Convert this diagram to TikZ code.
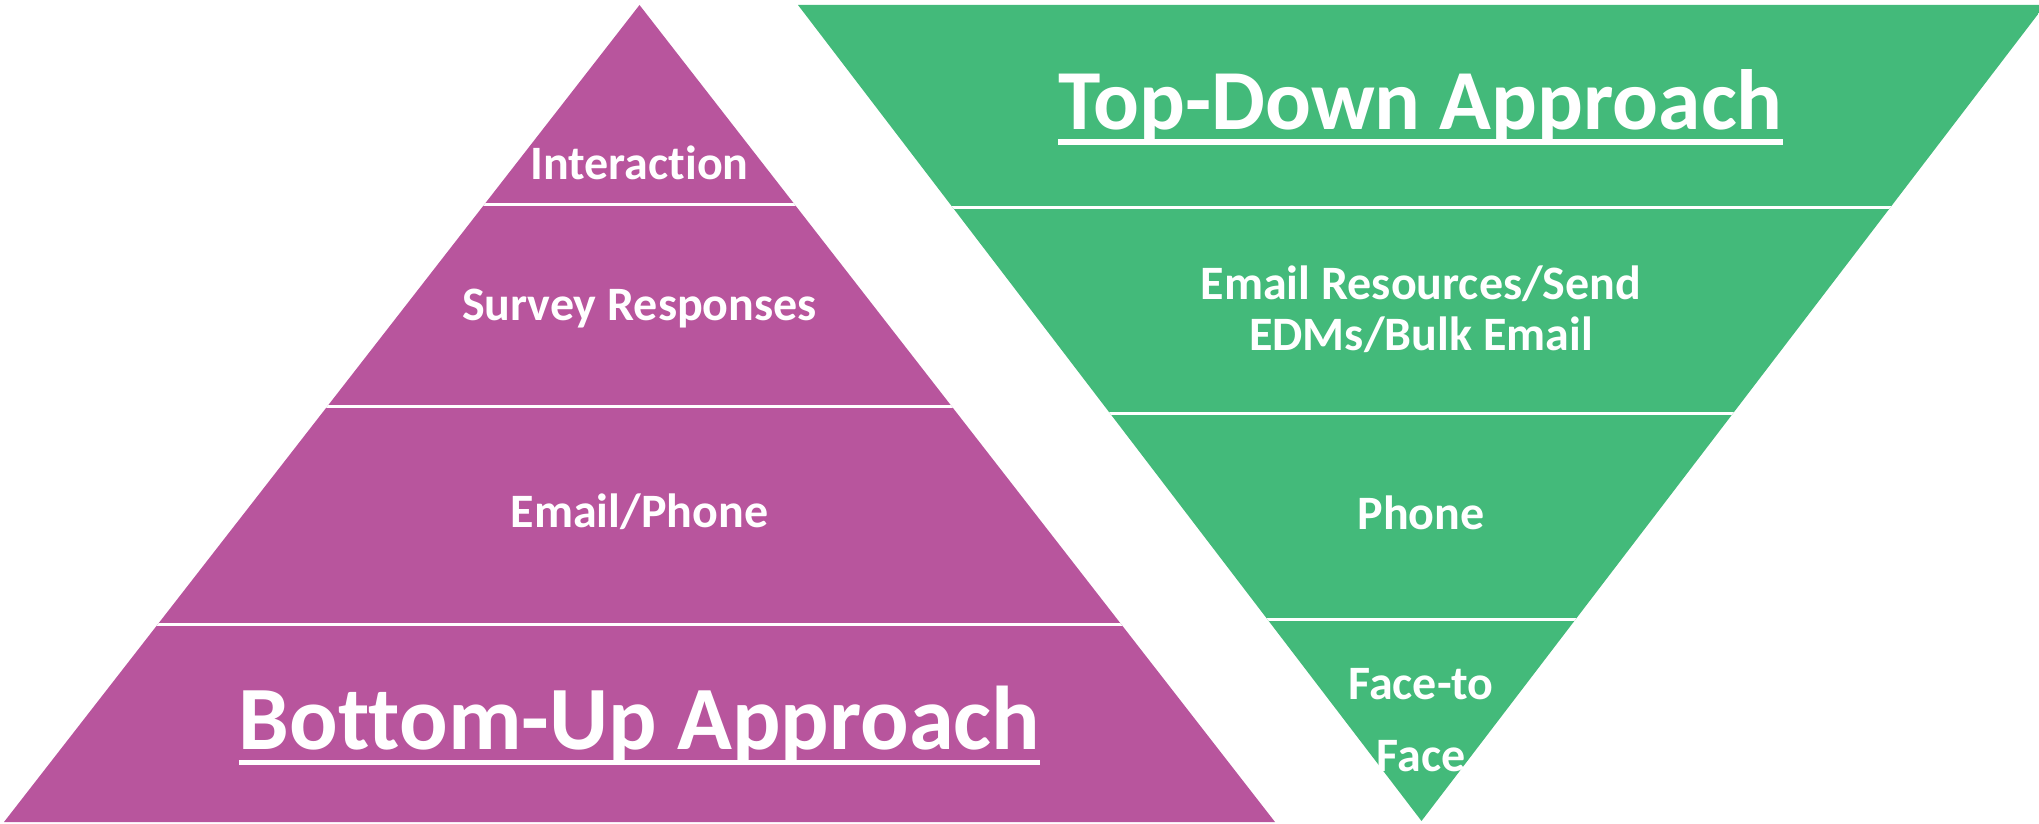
\documentclass[tikz,border=0pt]{standalone}
\usepackage{fontspec}
\setmainfont{Carlito}[Ligatures=NoCommon]
\definecolor{bottomupback}{RGB}{184,85,157}
\definecolor{topdownback}{RGB}{67,186,122}

\begin{document}
\begin{tikzpicture}[x=1pt,y=-1pt,
  layertext/.style={text=white,font=\fontsize{48}{51}\selectfont\bfseries,inner sep=0pt,anchor=base,align=center},
  headtext/.style={text=white,font=\fontsize{88}{96}\selectfont\bfseries,inner sep=0pt,anchor=base},
  divider/.style={white,line width=3pt}]
\useasboundingbox (0,0) rectangle (2039,824);
\begin{scope}
\clip (639.5,5) -- (1275,822) -- (4,822) -- cycle;
\fill[bottomupback] (0,0) rectangle (2039,824);
\foreach \y in {204,406,624} \draw[divider] (0,\y) -- (2039,\y);
\end{scope}
\begin{scope}
\clip (798,5) -- (2045,5) -- (1421.5,821) -- cycle;
\fill[topdownback] (0,0) rectangle (2039,824);
\foreach \y in {207.5,413,619.5} \draw[divider] (0,\y) -- (2039,\y);
\end{scope}
\node [layertext] (interaction) at (639.5,179) {Interaction};
\node [layertext] (survey) at (639.5,320) {Survey Responses};
\node [layertext] (emailphone) at (639.5,527.7) {Email/Phone};
\node [headtext,font=\fontsize{90.5}{96}\selectfont\bfseries] (bottomup) at (639.5,749.3) {Bottom-Up Approach};
\draw [white,line width=5pt] ([yshift=-13pt]bottomup.base west) -- ([yshift=-13pt]bottomup.base east);
\node [headtext,font=\fontsize{85.5}{96}\selectfont\bfseries] (topdown) at (1420.5,130) {Top-Down Approach};
\draw [white,line width=5pt] ([yshift=-12pt]topdown.base west) -- ([yshift=-12pt]topdown.base east);
\node [layertext] (bulkemail) at (1421,350) {Email Resources/Send\\EDMs/Bulk Email};
\node [layertext] (phone) at (1421,529.3) {Phone};
\node [layertext,font=\fontsize{48}{72.7}\selectfont\bfseries] (facetoface) at (1421,771.7) {Face-to\\Face};
\end{tikzpicture}
\end{document}
